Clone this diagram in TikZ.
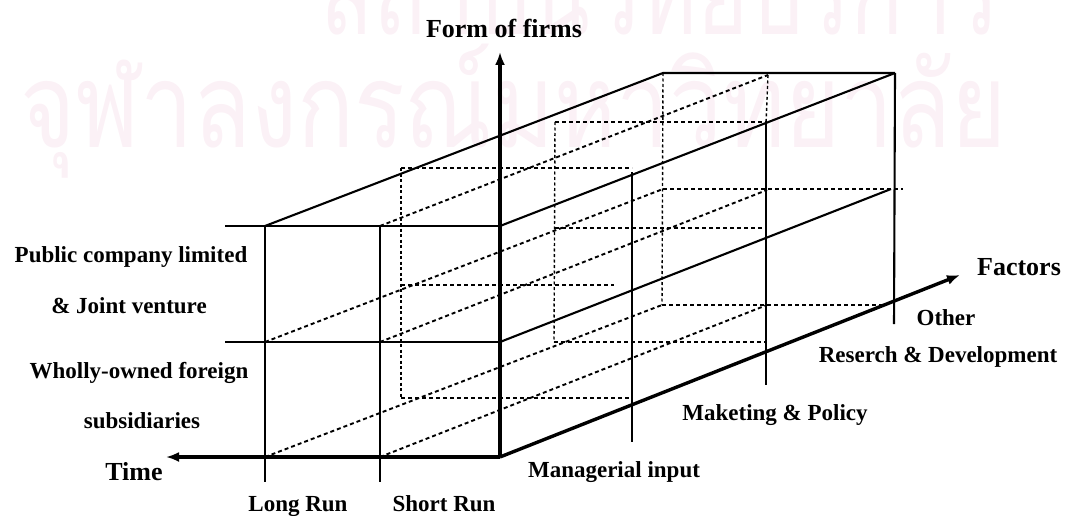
\documentclass[tikz,border=0pt]{standalone}
\usepackage{fontspec}
\setmainfont{Liberation Serif}
\newfontfamily\thaifont[Script=Thai]{Loma}
\usetikzlibrary{arrows.meta}
\definecolor{wmpink}{RGB}{251,241,246}

\begin{document}
\begin{tikzpicture}[x=1pt,y=-1pt,
  edge/.style={line width=2.1pt},
  axisline/.style={line width=3.4pt,-{Latex[length=13pt,width=10pt]}},
  hidden/.style={line width=1.9pt,dash pattern=on 4pt off 3pt},
  hiddenv/.style={line width=1.4pt,dash pattern=on 3pt off 2.5pt},
  lbl/.style={font=\bfseries\fontsize{23}{25}\selectfont,anchor=base,inner sep=0pt},
  axlbl/.style={font=\bfseries\fontsize{26}{28}\selectfont,anchor=base,inner sep=0pt},
  wmtext/.style={font=\thaifont\fontsize{118}{120}\selectfont,text=wmpink,anchor=base west,inner sep=0pt}
]
\useasboundingbox (0,0) rectangle (1075,516);

% faint background lettering
\begin{scope}
  \clip (0,0) rectangle (1075,516);
  \node[wmtext] (wmA) at (320,35) {\scalebox{0.74}[1]{สถาบันวิทยบริการ}};
  \node[wmtext] (wmB) at (20,147) {\scalebox{0.8}[1]{จุฬาลงกรณ์มหาวิทยาลัย}};
\end{scope}

% front face grid points
\coordinate (L0) at (225,226);
\coordinate (L1) at (225,342);
\coordinate (F00) at (265,226);
\coordinate (F10) at (380,226);
\coordinate (F20) at (500,226);
\coordinate (F01) at (265,342);
\coordinate (F11) at (380,342);
\coordinate (F21) at (500,342);
\coordinate (F02) at (265,457);
\coordinate (F12) at (380,457);
\coordinate (F22) at (500,457);
\coordinate (T0) at (265,482);
\coordinate (T1) at (380,482);
% axis tips
\coordinate (up) at (500,52);
\coordinate (timetip) at (166,457);
\coordinate (facttip) at (960,275);
% back face
\coordinate (B00) at (663,73);
\coordinate (B10) at (768,75);
\coordinate (B20) at (895,73);
\coordinate (B01) at (663,189);
\coordinate (B11) at (767,190);
\coordinate (B21) at (891,189);
\coordinate (B21x) at (903,189);
\coordinate (B02) at (662,305);
\coordinate (B12) at (767,305);
\coordinate (B22x) at (886,305);
% verticals on the right face
\coordinate (R1t) at (632,172);
\coordinate (R1b) at (632,442);
\coordinate (R2t) at (766,124);
\coordinate (R2b) at (766,385);
\coordinate (R3b) at (894,324);
% first inner section
\coordinate (A0) at (401,168);
\coordinate (A0r) at (632,168);
\coordinate (A1) at (401,285);
\coordinate (A1r) at (614,285);
\coordinate (A2) at (401,398);
\coordinate (A2r) at (630,398);
% second inner section
\coordinate (S0) at (555,122);
\coordinate (S0r) at (767,122);
\coordinate (S1) at (555,228);
\coordinate (S1r) at (766,228);
\coordinate (S2) at (554,342);
\coordinate (S2r) at (766,342);

% hidden lines
\draw[hiddenv] (A0) -- (A2);
\draw[hiddenv] (S0) -- (S2);
\draw[hiddenv] (B00) -- (B02);
\draw[hiddenv] (B10) -- (R2t);
\draw[hidden] (A0) -- (A0r);
\draw[hidden] (A1) -- (A1r);
\draw[hidden] (A2) -- (A2r);
\draw[hidden] (S0) -- (S0r);
\draw[hidden] (S1) -- (S1r);
\draw[hidden] (S2) -- (S2r);
\draw[hidden] (B01) -- (B21x);
\draw[hidden] (B02) -- (B22x);
\draw[hidden] (F10) -- (B10);
\draw[hidden] (F01) -- (B01);
\draw[hidden] (F11) -- (B11);
\draw[hidden] (F02) -- (B02);
\draw[hidden] (F12) -- (B12);

% visible edges
\draw[edge] (L0) -- (F20);
\draw[edge] (L1) -- (F21);
\draw[edge] (F00) -- (T0);
\draw[edge] (F10) -- (T1);
\draw[edge,line join=round] (F00) -- (B00) -- (B20);
\draw[edge] (F20) -- (B20);
\draw[edge] (F21) -- (B21);
\draw[edge] (R1t) -- (R1b);
\draw[edge] (R2t) -- (R2b);
\draw[edge] (B20) -- (R3b);

% axes
\draw[axisline] (F22) -- (up);
\draw[axisline] (F22) -- (timetip);
\draw[axisline] (F22) -- (facttip);

% labels
\node[axlbl] (lForm) at (504,38) {Form of firms};
\node[axlbl] (lFact) at (1019,275) {Factors};
\node[axlbl] (lTime) at (134,480) {Time};
\node[lbl] (lPub) at (131,262) {Public company limited};
\node[lbl] (lJoint) at (129,313) {\& Joint venture};
\node[lbl] (lWholly) at (139,378) {Wholly-owned foreign};
\node[lbl] (lSubs) at (142,428) {subsidiaries};
\node[lbl] (lLong) at (298,511) {Long Run};
\node[lbl] (lShort) at (444,511) {Short Run};
\node[lbl] (lMan) at (614,477) {Managerial input};
\node[lbl] (lMkt) at (775,420) {Maketing \& Policy};
\node[lbl] (lRD) at (938,362) {Reserch \& Development};
\node[lbl] (lOther) at (946,325) {Other};
\end{tikzpicture}
\end{document}
